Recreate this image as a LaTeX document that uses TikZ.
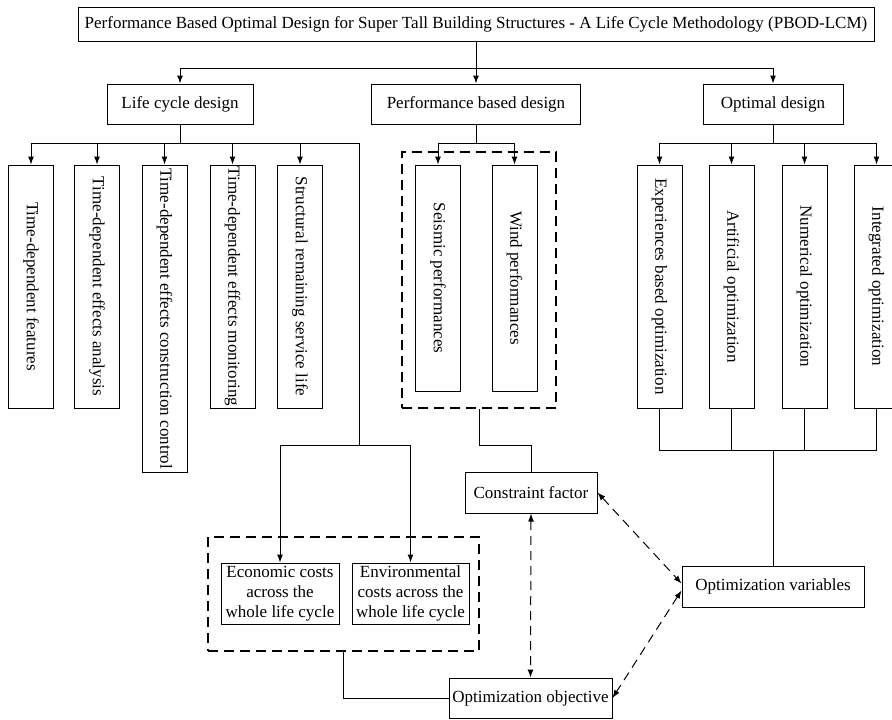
\documentclass[tikz,border=0pt]{standalone}
\usepackage{fontspec}
\setmainfont{Liberation Serif}
\usepackage{graphicx}
\usetikzlibrary{arrows.meta}

\begin{document}
\begin{tikzpicture}[x = 1pt, y = -1pt, line width = 1pt,
        >={Latex[length=8pt, width=6pt]},
        every node/.style = {font = \fontsize{17}{20}\selectfont},
        blk/.style = {draw, inner sep = 2pt, minimum height = 40},
        vblk/.style = {draw, inner sep = 0pt, minimum width = 45},
        grp/.style = {draw, line width = 1.7pt, dash pattern = on 10pt off 6pt},
        link/.style = {dash pattern = on 9pt off 6pt, <->}]
        \useasboundingbox (0,0) rectangle (892,720);
        \node[blk, minimum width = 796, minimum height = 34] (pbod) at (476,24)
              {Performance Based Optimal Design for Super Tall Building Structures - A Life Cycle Methodology (PBOD-LCM)};
        \node[blk, minimum width = 146] (lcd) at (180,104) {Life cycle design};
        \node[blk, minimum width = 209] (pbd) at (476,104) {Performance based design};
        \node[blk, minimum width = 140] (od) at (773,104) {Optimal design};

        \node[vblk, minimum height = 243] (tdf) at (31,286.5) {\rotatebox{-90}{Time-dependent features}};
        \node[vblk, minimum height = 243] (tda) at (97,286.5) {\rotatebox{-90}{Time-dependent effects analysis}};
        \node[vblk, minimum height = 307] (tdc) at (164.5,318.5) {\rotatebox{-90}{Time-dependent effects construction control}};
        \node[vblk, minimum height = 243] (tdm) at (232.5,286.5) {\rotatebox{-90}{Time-dependent effects monitoring}};
        \node[vblk, minimum height = 243] (srl) at (300,286.5) {\rotatebox{-90}{Structural remaining service life}};

        \node[grp, minimum width = 154, minimum height = 256] (perf) at (479,280) {};
        \node[vblk, minimum height = 226] (seis) at (438,278) {\rotatebox{-90}{Seismic performances}};
        \node[vblk, minimum height = 226] (wind) at (514.5,278) {\rotatebox{-90}{Wind performances}};

        \node[vblk, minimum height = 243] (exp) at (659.5,286.5) {\rotatebox{-90}{Experiences based optimization}};
        \node[vblk, minimum height = 243] (art) at (731.5,286.5) {\rotatebox{-90}{Artificial optimization}};
        \node[vblk, minimum height = 243] (num) at (804.5,286.5) {\rotatebox{-90}{Numerical optimization}};
        \node[vblk, minimum height = 243] (int) at (876.5,286.5) {\rotatebox{-90}{Integrated optimization}};

        \node[grp, minimum width = 271, minimum height = 114] (cost) at (343.5,594) {};
        \node[draw, align = center, inner sep = 0pt, minimum width = 118, minimum height = 61] (eco) at (280,593.5)
              {Economic costs\\across the\\whole life cycle};
        \node[draw, align = center, inner sep = 0pt, minimum width = 117, minimum height = 61] (env) at (410.5,593.5)
              {Environmental\\costs across the\\whole life cycle};

        \node[blk, minimum width = 132, minimum height = 41] (cf) at (531,492.5) {Constraint factor};
        \node[blk, minimum width = 163] (oo) at (530.5,698) {Optimization objective};
        \node[blk, minimum width = 182, minimum height = 41] (ov) at (773,586.5) {Optimization variables};

        \coordinate (j0) at (476,68);
        \coordinate (j1) at (180,143);
        \coordinate (j2) at (359,445);
        \coordinate (j3) at (476,143);
        \coordinate (j4) at (773,143);
        \coordinate (j5) at (773,450);

        \draw[->] (pbod.south) -- (j0) -| (lcd.north);
        \draw[->] (j0) -| (od.north);
        \draw[->] (j0) -- (pbd.north);

        \draw (lcd.south) -- (j1) -| (j2);
        \foreach \n in {tdf, tda, tdc, tdm, srl}
                \draw[->] (j1) -| (\n.north);
        \draw[->] (j2) -| (eco.north);
        \draw[->] (j2) -| (env.north);
        \draw (cost.south) |- (oo.west);

        \draw (pbd.south) -- (j3);
        \draw[->] (j3) -| (seis.north);
        \draw[->] (j3) -| (wind.north);
        \draw (perf.south) -- ++(0,37) -| (cf.north);

        \draw (od.south) -- (j4);
        \foreach \n in {exp, art, num, int} {
                \draw[->] (j4) -| (\n.north);
                \draw (\n.south) |- (j5);
        }
        \draw (j5) -- (ov.north);

        \draw[link] (cf.east) -- ([yshift=3pt]ov.west);
        \draw[link] (cf.south) -- (oo.north);
        \draw[link] ([yshift=-4pt]ov.west) -- (oo.east);
      \end{tikzpicture}
\end{document}
